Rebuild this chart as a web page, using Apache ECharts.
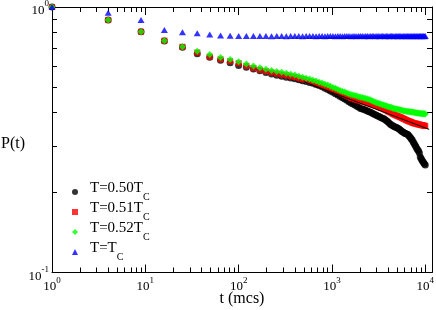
<!DOCTYPE html>
<html><head><meta charset="utf-8">
<script src="https://cdn.jsdelivr.net/npm/echarts@6/dist/echarts.min.js"></script>
<style>html,body{margin:0;padding:0;background:#fff}#c{width:436px;height:310px}</style>
</head><body><div id="c"></div><script>
// time steps (mcs)
const tVals = [1,4,9,16,25,36,49,64,81,100,121,144,169,196,225,256,289,324,361,400,
441,484,529,576,625,676,729,784,841,900,961,1024,1089,1156,1225,1296,1369,1444,1521,1600,
1681,1764,1849,1936,2025,2116,2209,2304,2401,2500,2601,2704,2809,2916,3025,3136,3249,3364,3481,3600,
3721,3844,3969,4096,4225,4356,4489,4624,4761,4900,5041,5184,5329,5476,5625,5776,5929,6084,6241,6400,
6561,6724,6889,7056,7225,7396,7569,7744,7921,8100,8281,8464,8649,8836,9025,9216,9409,9604,9801,10000];

// T = 0.50 Tc (black circles)
const p050 = [1.000,0.893,0.807,0.745,0.706,0.666,0.647,0.630,0.616,0.602,
0.593,0.584,0.575,0.567,0.559,0.553,0.549,0.544,0.540,0.537,
0.532,0.528,0.524,0.520,0.516,0.511,0.506,0.501,0.494,0.489,
0.483,0.477,0.471,0.466,0.460,0.455,0.450,0.445,0.440,0.435,
0.431,0.427,0.423,0.419,0.415,0.413,0.411,0.408,0.406,0.403,
0.401,0.398,0.395,0.393,0.390,0.388,0.386,0.383,0.381,0.379,
0.376,0.373,0.370,0.366,0.362,0.359,0.357,0.355,0.353,0.352,
0.350,0.348,0.346,0.343,0.340,0.338,0.336,0.334,0.333,0.332,
0.330,0.326,0.323,0.319,0.316,0.311,0.307,0.302,0.298,0.293,
0.290,0.287,0.282,0.272,0.269,0.265,0.262,0.259,0.256,0.254];

// T = 0.51 Tc (red squares)
const p051 = [1.000,0.893,0.807,0.747,0.708,0.674,0.650,0.635,0.625,0.614,
0.600,0.589,0.580,0.573,0.567,0.562,0.557,0.553,0.549,0.545,
0.540,0.536,0.531,0.526,0.522,0.517,0.512,0.507,0.502,0.498,
0.493,0.489,0.485,0.481,0.476,0.472,0.467,0.463,0.459,0.454,
0.452,0.449,0.447,0.445,0.443,0.441,0.439,0.437,0.435,0.433,
0.431,0.429,0.427,0.426,0.424,0.422,0.419,0.417,0.415,0.413,
0.410,0.408,0.405,0.403,0.401,0.398,0.396,0.394,0.392,0.390,
0.389,0.387,0.385,0.384,0.382,0.380,0.379,0.377,0.375,0.374,
0.372,0.371,0.370,0.369,0.367,0.366,0.365,0.364,0.364,0.363,
0.362,0.361,0.361,0.360,0.359,0.359,0.358,0.358,0.357,0.356];

// T = 0.52 Tc (green diamonds)
const p052 = [1.000,0.893,0.807,0.747,0.709,0.682,0.662,0.645,0.634,0.622,
0.610,0.600,0.590,0.583,0.577,0.572,0.568,0.563,0.558,0.554,
0.548,0.544,0.539,0.535,0.530,0.526,0.521,0.517,0.512,0.508,
0.503,0.498,0.494,0.489,0.485,0.481,0.478,0.474,0.471,0.468,
0.466,0.464,0.462,0.459,0.457,0.456,0.454,0.452,0.450,0.448,
0.446,0.443,0.441,0.438,0.436,0.434,0.432,0.430,0.428,0.427,
0.425,0.424,0.422,0.420,0.419,0.418,0.416,0.415,0.414,0.413,
0.412,0.411,0.410,0.409,0.408,0.407,0.406,0.406,0.405,0.404,
0.404,0.403,0.403,0.402,0.402,0.401,0.401,0.400,0.400,0.399,
0.399,0.398,0.398,0.397,0.397,0.397,0.396,0.396,0.396,0.395];

// T = Tc (blue triangles)
const pTc = [1.000,0.951,0.894,0.820,0.804,0.797,0.787,0.781,0.779,0.778,
0.777,0.777,0.778,0.777,0.776,0.777,0.777,0.776,0.777,0.777,
0.777,0.776,0.777,0.777,0.777,0.776,0.777,0.777,0.776,0.777,
0.777,0.777,0.776,0.777,0.777,0.776,0.777,0.777,0.777,0.776,
0.777,0.777,0.776,0.777,0.777,0.777,0.776,0.777,0.777,0.776,
0.777,0.777,0.777,0.776,0.777,0.777,0.776,0.777,0.777,0.777,
0.776,0.777,0.777,0.776,0.777,0.777,0.777,0.776,0.777,0.777,
0.776,0.777,0.777,0.777,0.776,0.777,0.777,0.776,0.777,0.777,
0.777,0.776,0.777,0.777,0.776,0.777,0.777,0.777,0.776,0.777,
0.777,0.776,0.777,0.777,0.777,0.776,0.777,0.777,0.776,0.777];

// power-law fit line (black)
const tFit = [500, 11000];
const pFit = [0.523, 0.346];

const seriesNames = ['T=0.50TC','T=0.51TC','T=0.52TC','T=TC'];
const legendLabels = ['{a|T=0.50T}{c|C}','{a|T=0.51T}{c|C}','{a|T=0.52T}{c|C}','{a|T=T}{c|C}'];
const xTickExp = [0,1,2,3,4];
const yTickExp = [-1,0];
const minorMult = [2,3,4,5,6,7,8,9];

const X_MIN = 1, X_MAX = 11800, Y_MIN = 0.1, Y_MAX = 1;
const FONT = 'Liberation Serif';

const lxMax = Math.log10(X_MAX);
const xMinor = [];
for (let k = 0; k < 4; k++) minorMult.forEach(m => xMinor.push(Math.log10(m) + k));
const yMinor = minorMult.map(m => Math.log10(m) - 1);

function ovAxis(position, lo, hi, ticks, len, major, labelCfg, extra) {
  return Object.assign({
    type: 'value', position: position, min: lo, max: hi,
    axisLine: { show: major, onZero: false, lineStyle: { color: '#000', width: 1 } },
    axisTick: { show: true, inside: true, length: len, customValues: ticks, lineStyle: { color: '#000', width: 1 } },
    axisLabel: labelCfg || { show: false },
    splitLine: { show: false }, minorTick: { show: false }
  }, extra || {});
}

const xLabel = {
  show: true, customValues: xTickExp, margin: 7, color: '#000',
  formatter: v => '{b|10}{e|' + v + '}',
  rich: {
    b: { fontSize: 13, fontFamily: FONT, color: '#000', lineHeight: 14 },
    e: { fontSize: 9, fontFamily: FONT, color: '#000', lineHeight: 14, padding: [0, 0, 12, 0] }
  }
};
const yLabel = {
  show: true, customValues: yTickExp, margin: 3, color: '#000',
  formatter: v => '{b|10}{e|' + v + '}',
  rich: {
    b: { fontSize: 13, fontFamily: FONT, color: '#000', lineHeight: 14, padding: [8, 0, 0, 0] },
    e: { fontSize: 9, fontFamily: FONT, color: '#000', lineHeight: 14, padding: [0, 0, 6, 0] }
  }
};

const xAxes = [
  { type: 'log', min: X_MIN, max: X_MAX, show: false },
  ovAxis('bottom', 0, lxMax, xTickExp, 8, true, xLabel, {
    name: 't (mcs)', nameLocation: 'middle', nameGap: 18, nameMoveOverlap: false,
    nameTextStyle: { fontSize: 16, fontFamily: FONT, color: '#000' }
  }),
  ovAxis('bottom', 0, lxMax, xMinor, 5, false),
  ovAxis('top', 0, lxMax, xTickExp, 8, true),
  ovAxis('top', 0, lxMax, xMinor, 5, false)
];
const yAxes = [
  { type: 'log', min: Y_MIN, max: Y_MAX, show: false },
  ovAxis('left', -1, 0, yTickExp, 8, true, yLabel, {
    name: 'P(t)', nameLocation: 'middle', nameGap: 27, nameRotate: 0, nameMoveOverlap: false,
    nameTextStyle: { fontSize: 16, fontFamily: FONT, color: '#000', verticalAlign: 'top', lineHeight: 9 }
  }),
  ovAxis('left', -1, 0, yMinor, 5, false),
  ovAxis('right', -1, 0, yTickExp, 8, true),
  ovAxis('right', -1, 0, yMinor, 5, false)
];

function pts(arr) { return tVals.map((t, i) => [t, arr[i]]); }

const chart = echarts.init(document.getElementById('c'), null, { renderer: 'canvas' });
chart.setOption({
  animation: false,
  backgroundColor: '#fff',
  grid: { left: 52, right: 4, top: 7, bottom: 37.5, containLabel: false, outerBoundsMode: 'none' },
  xAxis: xAxes,
  yAxis: yAxes,
  legend: {
    orient: 'vertical', left: 72, top: 181, padding: 0,
    itemWidth: 6, itemHeight: 6, itemGap: -1,
    data: [
      { name: seriesNames[0], icon: 'circle' },
      { name: seriesNames[1], icon: 'rect' },
      { name: seriesNames[2], icon: 'diamond' },
      { name: seriesNames[3], icon: 'triangle' }
    ],
    formatter: n => legendLabels[seriesNames.indexOf(n)],
    textStyle: {
      color: '#000',
      rich: {
        a: { fontSize: 15, fontFamily: FONT, color: '#000', padding: [0, 0, 7, 7] },
        c: { fontSize: 10, fontFamily: FONT, color: '#000', padding: [10, 0, 0, 0] }
      }
    }
  },
  series: [
    { type: 'scatter', name: seriesNames[0], data: pts(p050), symbol: 'circle', symbolSize: 7,
      itemStyle: { color: '#000000' }, clip: false, z: 2 },
    { type: 'scatter', name: seriesNames[1], data: pts(p051), symbol: 'rect', symbolSize: 6,
      itemStyle: { color: '#ff0000' }, clip: false, z: 3 },
    { type: 'scatter', name: seriesNames[2], data: pts(p052), symbol: 'diamond', symbolSize: 7,
      itemStyle: { color: '#00ff00' }, clip: false, z: 4 },
    { type: 'scatter', name: seriesNames[3], data: pts(pTc), symbol: 'triangle', symbolSize: [7, 6],
      itemStyle: { color: '#0000ff' }, clip: false, z: 5 },
    { type: 'line', name: 'fit', data: tFit.map((t, i) => [t, pFit[i]]), symbol: 'none',
      lineStyle: { color: '#000', width: 1 }, z: 6, silent: true }
  ]
});
</script></body></html>
